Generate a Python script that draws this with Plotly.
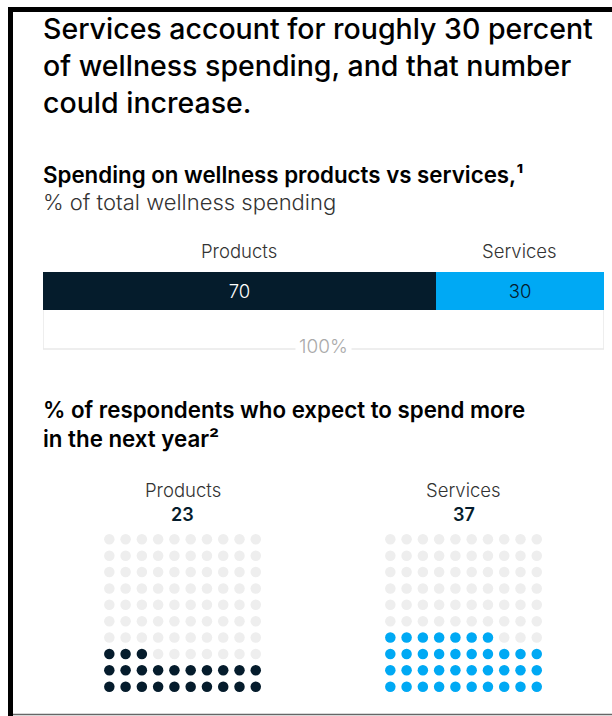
import plotly.graph_objects as go

W, H = 612, 716

# Share of total wellness spending
segments = ["Products", "Services"]
share = [70, 30]
seg_colors = ["#051c2c", "#00a9f4"]
seg_text_colors = ["#ffffff", "#051c2c"]

# % of respondents who expect to spend more in the next year
groups = ["Products", "Services"]
expect_more = [23, 37]
group_colors = ["#051c2c", "#00a9f4"]
empty_dot = "#eeeeee"

GRID_COLS, GRID_ROWS = 10, 10

FONT = "Inter"
TEXT = "#051c2c"


def px(x):
    return x / W


def py(y):
    return 1 - y / H


fig = go.Figure()

# ---- stacked 100% bar ----
for name, val, col, tcol in zip(segments, share, seg_colors, seg_text_colors):
    fig.add_trace(go.Bar(
        x=[val], y=[0], orientation="h", name=name,
        marker=dict(color=col, line=dict(width=0)),
        width=1,
        text=[str(val)], textposition="inside", insidetextanchor="middle",
        textfont=dict(family=FONT, size=18.5, weight=300, color=tcol),
        xaxis="x", yaxis="y", hoverinfo="skip", showlegend=False,
    ))

annotations = []
shapes = []

# segment labels above the bar, centred on each segment
start = 0
for name, val in zip(segments, share):
    mid = start + val / 2
    annotations.append(dict(
        x=mid, xref="x", y=py(251), yref="paper", text=name,
        showarrow=False, xanchor="center", yanchor="middle",
        font=dict(family=FONT, size=18.5, weight=300, color="#333333"),
    ))
    start += val
total = sum(share)

# bracket under the bar spanning the total
bracket_col = "#e9e9e9"
shapes += [
    dict(type="line", xref="x", yref="paper", x0=0, x1=0, y0=py(310), y1=py(349),
         line=dict(color=bracket_col, width=1.5)),
    dict(type="line", xref="x", yref="paper", x0=total, x1=total, y0=py(310), y1=py(349),
         line=dict(color=bracket_col, width=1.5)),
    dict(type="line", xref="x", yref="paper", x0=0, x1=total, y0=py(349), y1=py(349),
         line=dict(color=bracket_col, width=1.5)),
]
annotations.append(dict(
    x=total / 2, xref="x", y=py(346), yref="paper", text=f"{total}%",
    showarrow=False, xanchor="center", yanchor="middle", bgcolor="#ffffff",
    borderpad=3,
    font=dict(family=FONT, size=19, weight=300, color="#aaaaaa"),
))

# ---- dot grids ----
for i, (name, val, col) in enumerate(zip(groups, expect_more, group_colors)):
    xs, ys, cs = [], [], []
    for k in range(GRID_COLS * GRID_ROWS):
        xs.append(k % GRID_COLS)
        ys.append(k // GRID_COLS)
        cs.append(col if k < val else empty_dot)
    ax = i + 2
    fig.add_trace(go.Scatter(
        x=xs, y=ys, mode="markers",
        marker=dict(size=10.5, color=cs, line=dict(width=0)),
        xaxis=f"x{ax}", yaxis=f"y{ax}", hoverinfo="skip", showlegend=False,
    ))
    annotations.append(dict(
        x=(GRID_COLS - 1) / 2, xref=f"x{ax}", y=py(490), yref="paper", text=name,
        showarrow=False, xanchor="center", yanchor="middle",
        font=dict(family=FONT, size=18.5, weight=300, color="#333333"),
    ))
    annotations.append(dict(
        x=(GRID_COLS - 1) / 2, xref=f"x{ax}", y=py(514), yref="paper",
        text=str(val),
        showarrow=False, xanchor="center", yanchor="middle",
        font=dict(family=FONT, size=18, weight=600, color=TEXT),
    ))

# ---- headings ----
annotations.append(dict(
    x=px(41), xref="paper", y=py(65), yref="paper", xanchor="left", yanchor="middle",
    text="Services account for roughly 30 percent<br>of wellness spending, and that number<br>could increase.",
    align="left", showarrow=False,
    font=dict(family=FONT, size=28.5, weight=500, color="#000000"),
))
annotations.append(dict(
    x=px(41), xref="paper", y=py(175), yref="paper", xanchor="left", yanchor="middle",
    text="Spending on wellness products vs services,¹",
    align="left", showarrow=False,
    font=dict(family=FONT, size=22.3, weight=600, color="#000000"),
))
annotations.append(dict(
    x=px(41), xref="paper", y=py(202), yref="paper", xanchor="left", yanchor="middle",
    text="% of total wellness spending",
    align="left", showarrow=False,
    font=dict(family=FONT, size=22, weight=300, color="#333333"),
))
annotations.append(dict(
    x=px(41), xref="paper", y=py(424), yref="paper", xanchor="left", yanchor="middle",
    text="% of respondents who expect to spend more<br>in the next year²",
    align="left", showarrow=False,
    font=dict(family=FONT, size=22.3, weight=600, color="#000000"),
))

# ---- frame ----
shapes += [
    dict(type="rect", xref="paper", yref="paper", x0=px(8), x1=1, y0=py(12), y1=py(7),
         fillcolor="#000000", line=dict(width=0)),
    dict(type="rect", xref="paper", yref="paper", x0=px(8), x1=px(13), y0=0, y1=py(7),
         fillcolor="#000000", line=dict(width=0)),
    dict(type="line", xref="paper", yref="paper", x0=px(13), x1=1, y0=py(714.5), y1=py(714.5),
         line=dict(color="#666666", width=1.5)),
]

hidden = dict(visible=False, showgrid=False, zeroline=False, fixedrange=True)

fig.update_layout(
    width=W, height=H,
    margin=dict(l=0, r=0, t=0, b=0),
    paper_bgcolor="#ffffff", plot_bgcolor="rgba(0,0,0,0)",
    barmode="stack", bargap=0,
    xaxis=dict(domain=[px(43), px(604)], range=[0, total], anchor="y", **hidden),
    yaxis=dict(domain=[py(310), py(272)], range=[-0.5, 0.5], anchor="x", **hidden),
    xaxis2=dict(domain=[px(101.2), px(263.9)], range=[-0.5, 9.5], anchor="y2", **hidden),
    yaxis2=dict(domain=[py(694.9), py(531.1)], range=[-0.5, 9.5], anchor="x2", **hidden),
    xaxis3=dict(domain=[px(382.2), px(544.9)], range=[-0.5, 9.5], anchor="y3", **hidden),
    yaxis3=dict(domain=[py(694.9), py(531.1)], range=[-0.5, 9.5], anchor="x3", **hidden),
    annotations=annotations,
    shapes=shapes,
)

fig.write_html("out.html")
